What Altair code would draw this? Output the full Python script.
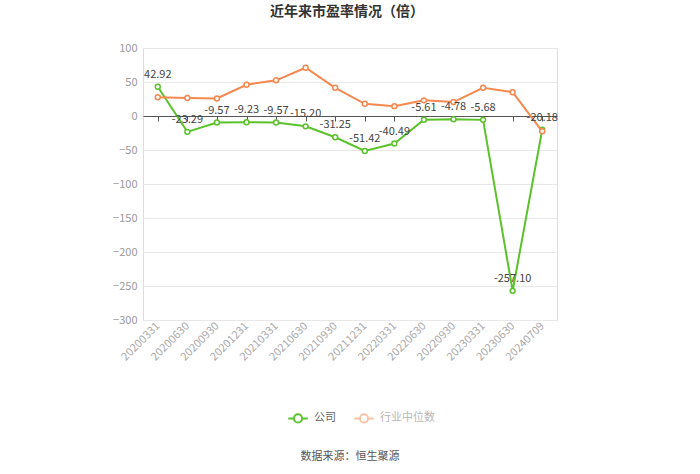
import altair as alt
import pandas as pd

dates = ["20200331", "20200630", "20200930", "20201231", "20210331", "20210630",
         "20210930", "20211231", "20220331", "20220630", "20220930", "20230331",
         "20230630", "20240709"]
company = [42.92, -23.29, -9.57, -9.23, -9.57, -15.20, -31.25, -51.42, -40.49,
           -5.61, -4.78, -5.68, -257.10, -20.18]
industry = [27.5, 26.5, 25.8, 46.0, 52.5, 71.0, 41.5, 18.0, 14.5, 23.0, 20.5,
            41.5, 35.0, -22.5]
y_ticks = [-300, -250, -200, -150, -100, -50, 0, 50, 100]

series_names = ["公司", "行业中位数"]
GREEN = "#5bc22b"
ORANGE = "#f5884f"
FONT = "Noto Sans CJK SC"

df_c = pd.DataFrame({"date": dates, "value": company, "series": series_names[0]})
df_c["label"] = [f"{v:.2f}" for v in company]
df_i = pd.DataFrame({"date": dates, "value": industry, "series": series_names[1]})

x_enc = alt.X(
    "date:N", sort=dates, title=None,
    axis=alt.Axis(
        offset=-204, domainColor="#555555", domainWidth=1, tickColor="#555555",
        tickSize=5, labelPadding=203, labelAngle=315, labelAlign="right",
        labelBaseline="middle", labelColor="#aaaaaa", labelFontSize=11,
        labelFont=FONT, grid=False, labelOverlap=False,
    ),
)
y_enc = alt.Y(
    "value:Q", title=None,
    scale=alt.Scale(domain=[-300, 100], nice=False),
    axis=alt.Axis(values=y_ticks, tickCount=9, domain=False, ticks=False,
                  labelColor="#999999", labelFontSize=11, labelFont=FONT,
                  labelPadding=6, labelOverlap=False, labelFlush=False,
                  gridColor="#e8e8e8"),
)
color_enc = alt.Color(
    "series:N",
    scale=alt.Scale(domain=series_names, range=[GREEN, ORANGE]),
    legend=alt.Legend(
        title=None, orient="none", legendX=144, legendY=359,
        direction="horizontal", columns=2,
        symbolType="M-1,0L-0.42,0M0.42,0L1,0M0.42,0A0.42,0.42,0,1,1,-0.42,0A0.42,0.42,0,1,1,0.42,0",
        symbolSize=380, symbolStrokeWidth=2, symbolFillColor="white",
        symbolOpacity={"expr": "datum.value == '公司' ? 1 : 0.5"},
        labelColor={"expr": "datum.value == '公司' ? '#666666' : '#b8b8b8'"},
        labelFontSize=11, labelFont=FONT, columnPadding=14, labelOffset=5,
    ),
)

point_def = alt.OverlayMarkDef(filled=False, fill="white", size=24, strokeWidth=1.5)

line_c = alt.Chart(df_c).mark_line(strokeWidth=2, point=point_def).encode(
    x=x_enc, y=y_enc, color=color_enc)
line_i = alt.Chart(df_i).mark_line(strokeWidth=2, point=point_def).encode(
    x=x_enc, y=y_enc, color=color_enc)
labels = alt.Chart(df_c).mark_text(dy=-12, fontSize=11, font=FONT,
                                   color="#444444").encode(
    x=x_enc, y=y_enc, text="label:N")

title = alt.Chart(pd.DataFrame({"t": ["近年来市盈率情况（倍）"]})).mark_text(
    fontSize=14, fontWeight="bold", font=FONT, color="#333333").encode(
    x=alt.value(204), y=alt.value(-36), text="t:N")
source = alt.Chart(pd.DataFrame({"t": ["数据来源：恒生聚源"]})).mark_text(
    fontSize=11, font=FONT, color="#555555").encode(
    x=alt.value(207), y=alt.value(409), text="t:N")

chart = alt.layer(line_c, line_i, labels, title, source).properties(
    width=414, height=272,
    autosize=alt.AutoSizeParams(type="none"),
    padding={"left": 143, "top": 48, "right": 143, "bottom": 154},
).configure_view(stroke=None).configure(background="white")

chart.save("out.html", embed_options={"renderer": "svg", "actions": False})
